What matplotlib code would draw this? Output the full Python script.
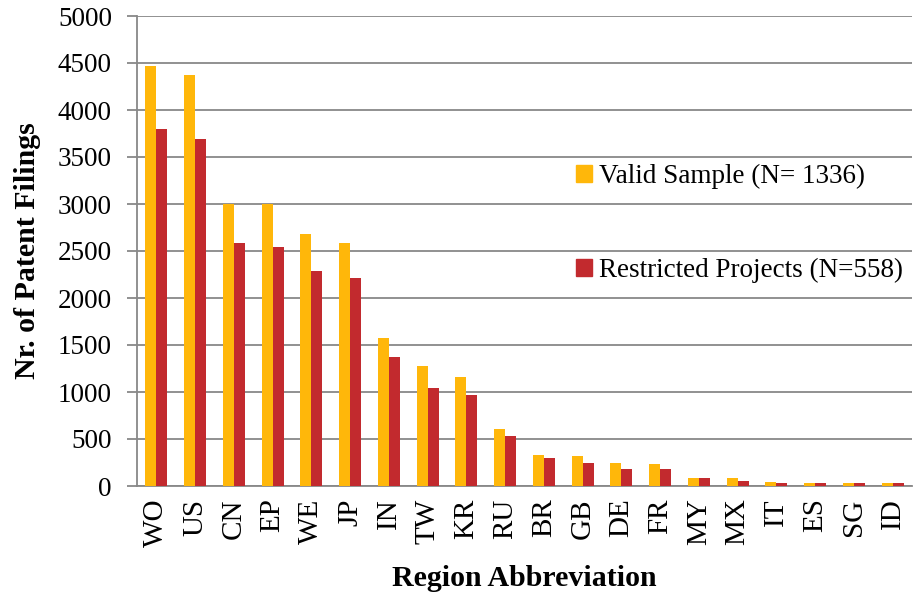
import matplotlib
matplotlib.use("Agg")
import matplotlib.pyplot as plt
import numpy as np
from matplotlib.patches import Rectangle

categories = ["WO", "US", "CN", "EP", "WE", "JP", "IN", "TW", "KR", "RU",
              "BR", "GB", "DE", "FR", "MY", "MX", "IT", "ES", "SG", "ID"]
valid_sample = [4470, 4370, 3000, 2995, 2680, 2580, 1575, 1280, 1160, 610,
                330, 320, 240, 235, 80, 80, 40, 35, 30, 30]
restricted = [3800, 3690, 2580, 2540, 2290, 2210, 1375, 1040, 970, 530,
              295, 250, 185, 180, 80, 50, 35, 32, 30, 30]
yticks = [0, 500, 1000, 1500, 2000, 2500, 3000, 3500, 4000, 4500, 5000]
legend_labels = ["Valid Sample (N= 1336)", "Restricted Projects (N=558)"]

YELLOW = "#FFB70A"
RED = "#C22A2E"
GRID = "#888888"

plt.rcParams["font.family"] = ["Liberation Serif", "DejaVu Serif"]

fig = plt.figure(figsize=(9.2, 5.96), dpi=100)
ax = fig.add_axes([137/920, 1 - 486/596, 775/920, 470/596])

x = np.arange(len(categories))
w = 0.284
ax.bar(x - w/2, valid_sample, width=w, color=YELLOW, zorder=3)
ax.bar(x + w/2, restricted, width=w, color=RED, zorder=3)

ax.set_xlim(-0.5, len(categories) - 0.5)
ax.set_ylim(0, 5000)
ax.set_yticks(yticks)
ax.set_yticklabels([str(v) for v in yticks], fontsize=19.5)
ax.set_xticks(x)
ax.set_xticklabels(categories, rotation=90, fontsize=21)

ax.yaxis.grid(True, color=GRID, linewidth=1.3, zorder=0)
ax.set_axisbelow(True)
for s in ["top", "right"]:
    ax.spines[s].set_visible(False)
for s in ["left", "bottom"]:
    ax.spines[s].set_color(GRID)
    ax.spines[s].set_linewidth(1.3)

ax.tick_params(axis="y", length=7, width=1.3, color=GRID, pad=11)
ax.tick_params(axis="x", length=0, pad=9)

ax.set_ylabel("Nr. of Patent Filings", fontsize=21.5, fontweight="bold", labelpad=12)
ax.set_xlabel("Region Abbreviation", fontsize=21.5, fontweight="bold", labelpad=13)

handles = [Rectangle((0, 0), 1, 1, color=YELLOW), Rectangle((0, 0), 1, 1, color=RED)]
leg = ax.legend(handles, legend_labels, loc="center left",
                bbox_to_anchor=(0.566, 0.559), frameon=False, fontsize=19.5,
                handlelength=0.6, handleheight=0.6, handletextpad=0.25,
                labelspacing=2.55, borderpad=0, borderaxespad=0)

fig.savefig("out.png", dpi=100)
